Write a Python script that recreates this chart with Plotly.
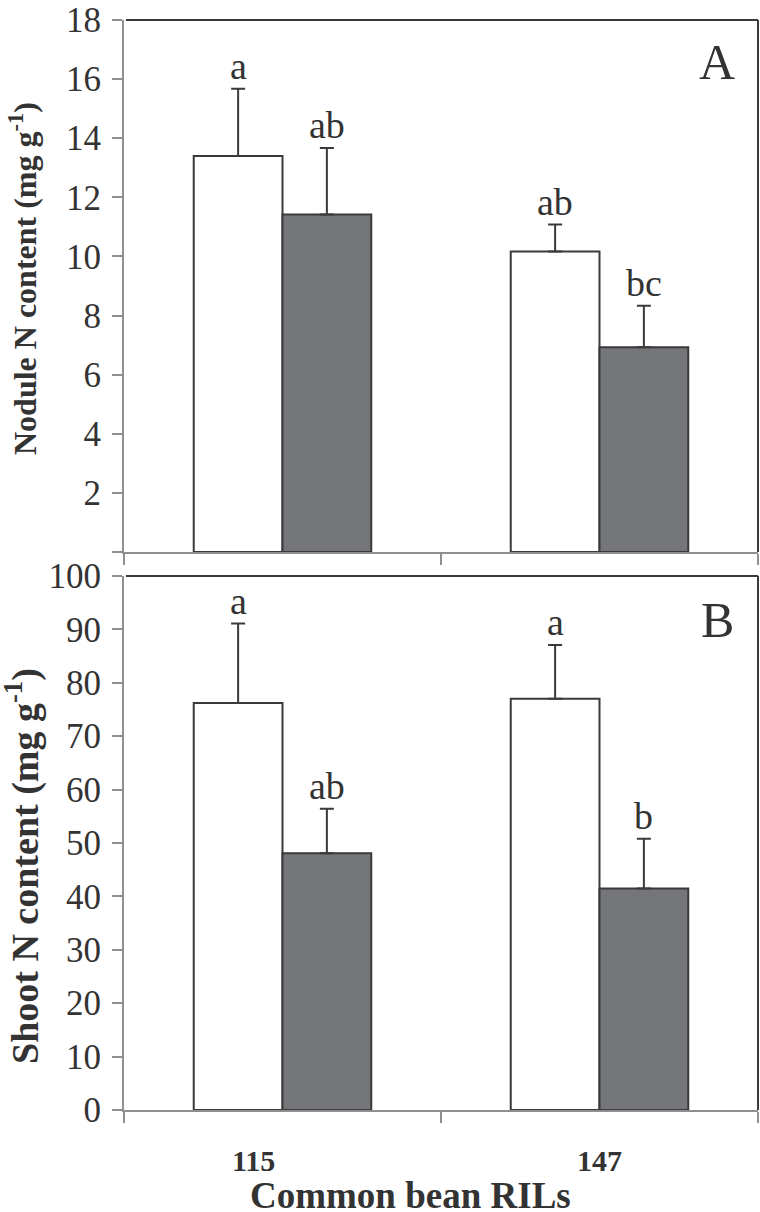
import plotly.graph_objects as go

# ---------------- data ----------------
categories = ["115", "147"]
series_names = ["Control", "Treatment"]

nodule_white = [13.4, 10.17]
nodule_white_err = [2.27, 0.91]
nodule_dark = [11.42, 6.93]
nodule_dark_err = [2.25, 1.40]
nodule_letters_white = ["a", "ab"]
nodule_letters_dark = ["ab", "bc"]

shoot_white = [76.2, 77.0]
shoot_white_err = [14.9, 10.1]
shoot_dark = [48.1, 41.5]
shoot_dark_err = [8.3, 9.3]
shoot_letters_white = ["a", "a"]
shoot_letters_dark = ["ab", "b"]

nodule_ticks = [0, 2, 4, 6, 8, 10, 12, 14, 16, 18]
nodule_ticktext = [" ", "2", "4", "6", "8", "10", "12", "14", "16", "18"]
shoot_ticks = [0, 10, 20, 30, 40, 50, 60, 70, 80, 90, 100]

# ---------------- style ----------------
W, H = 760, 1212
FONT = "Liberation Serif, Times New Roman, serif"
TXT = "#333333"
AXIS = "#8f8f8f"
EDGE = "#3a3a3a"
DARK = "#75767a"
BARGAP = 0.44

x_idx = list(range(len(categories)))
bw = (1 - BARGAP) / 2

x0, x1 = 124 / W, 758 / W
top_dom = [1 - 552 / H, 1 - 20 / H]
bot_dom = [1 - 1110 / H, 1 - 576 / H]

fig = go.Figure()


def add_bars(vals_w, err_w, vals_d, err_d, xa, ya):
    fig.add_trace(go.Bar(
        x=x_idx, y=vals_w, name=series_names[0], offsetgroup="w",
        marker=dict(color="white", line=dict(color=EDGE, width=2)),
        error_y=dict(type="data", symmetric=False, array=err_w,
                     arrayminus=[0] * len(err_w), color=EDGE, thickness=2, width=7),
        xaxis=xa, yaxis=ya, showlegend=False))
    fig.add_trace(go.Bar(
        x=x_idx, y=vals_d, name=series_names[1], offsetgroup="d",
        marker=dict(color=DARK, line=dict(color=EDGE, width=2)),
        error_y=dict(type="data", symmetric=False, array=err_d,
                     arrayminus=[0] * len(err_d), color=EDGE, thickness=2, width=7),
        xaxis=xa, yaxis=ya, showlegend=False))


add_bars(nodule_white, nodule_white_err, nodule_dark, nodule_dark_err, "x", "y")
add_bars(shoot_white, shoot_white_err, shoot_dark, shoot_dark_err, "x2", "y2")

annotations = []


def add_letters(vals, errs, letters, offset, xref, yref):
    for i, (v, e, t) in enumerate(zip(vals, errs, letters)):
        annotations.append(dict(
            x=x_idx[i] + offset, y=v + e, xref=xref, yref=yref, text=t,
            showarrow=False, xanchor="center", yanchor="bottom", yshift=0,
            font=dict(family=FONT, size=38, color=TXT)))


add_letters(nodule_white, nodule_white_err, nodule_letters_white, -bw / 2, "x", "y")
add_letters(nodule_dark, nodule_dark_err, nodule_letters_dark, bw / 2, "x", "y")
add_letters(shoot_white, shoot_white_err, shoot_letters_white, -bw / 2, "x2", "y2")
add_letters(shoot_dark, shoot_dark_err, shoot_letters_dark, bw / 2, "x2", "y2")

# panel letters
for lab, yc in [("A", 62), ("B", 620)]:
    annotations.append(dict(x=717 / W, y=1 - yc / H, xref="paper", yref="paper", text=lab,
                            showarrow=False, xanchor="center", yanchor="middle",
                            font=dict(family=FONT, size=50, color=TXT)))

# y titles
annotations.append(dict(x=23 / W, y=1 - 279 / H, xref="paper", yref="paper",
                        text="<b>Nodule N content (mg g<sup>-1</sup>)</b>", textangle=-90,
                        showarrow=False, xanchor="center", yanchor="middle",
                        font=dict(family=FONT, size=32, color=TXT)))
annotations.append(dict(x=22 / W, y=1 - 866 / H, xref="paper", yref="paper",
                        text="<b>Shoot N content (mg g<sup>-1</sup>)</b>", textangle=-90,
                        showarrow=False, xanchor="center", yanchor="middle",
                        font=dict(family=FONT, size=38, color=TXT)))

# x category labels
label_shift = [-0.09, 0.0]
for i, c in enumerate(categories):
    annotations.append(dict(x=x_idx[i] + label_shift[i], y=1 - 1160 / H, xref="x2", yref="paper",
                            text="<b>%s</b>" % c, showarrow=False,
                            xanchor="center", yanchor="middle",
                            font=dict(family=FONT, size=30, color=TXT)))
# x title
annotations.append(dict(x=410 / W, y=1 - 1195 / H, xref="paper", yref="paper",
                        text="<b>Common bean RILs</b>", showarrow=False,
                        xanchor="center", yanchor="middle",
                        font=dict(family=FONT, size=37, color=TXT)))

shapes = []
for xr, yr in [("x", "y"), ("x2", "y2")]:
    shapes.append(dict(type="line", xref=xr + " domain", yref=yr + " domain",
                       x0=0.003, x1=1, y0=1, y1=1, line=dict(color=EDGE, width=2)))
    shapes.append(dict(type="line", xref=xr + " domain", yref=yr + " domain",
                       x0=1, x1=1, y0=0, y1=1, line=dict(color=EDGE, width=2)))

xaxis_common = dict(range=[-0.5, len(categories) - 0.5], tickvals=[-0.5, 0.5, 1.5],
                    showticklabels=False, ticks="outside", ticklen=11, tickwidth=2,
                    tickcolor=AXIS, showline=True, linecolor=AXIS, linewidth=2,
                    showgrid=False, zeroline=False, domain=[x0, x1], automargin=False,
                    fixedrange=True)
yaxis_common = dict(ticks="outside", ticklen=10, tickwidth=2, tickcolor=AXIS,
                    showline=True, linecolor=AXIS, linewidth=2, showgrid=False,
                    zeroline=False, automargin=False, ticklabelstandoff=4,
                    tickfont=dict(family=FONT, size=35, color=TXT))

fig.update_layout(
    width=W, height=H, margin=dict(l=0, r=0, t=0, b=0),
    paper_bgcolor="white", plot_bgcolor="white",
    barmode="group", bargap=BARGAP, bargroupgap=0,
    xaxis=dict(**xaxis_common, anchor="y"),
    xaxis2=dict(**xaxis_common, anchor="y2"),
    yaxis=dict(**yaxis_common, range=[0, 18], tickvals=nodule_ticks, ticktext=nodule_ticktext,
               domain=top_dom, anchor="x"),
    yaxis2=dict(**yaxis_common, range=[0, 100], tickvals=shoot_ticks, domain=bot_dom, anchor="x2"),
    annotations=annotations, shapes=shapes, showlegend=False,
)

fig.write_html("out.html", config={"displayModeBar": False},
               post_script="document.body.style.margin='0';document.body.style.overflow='hidden';")
